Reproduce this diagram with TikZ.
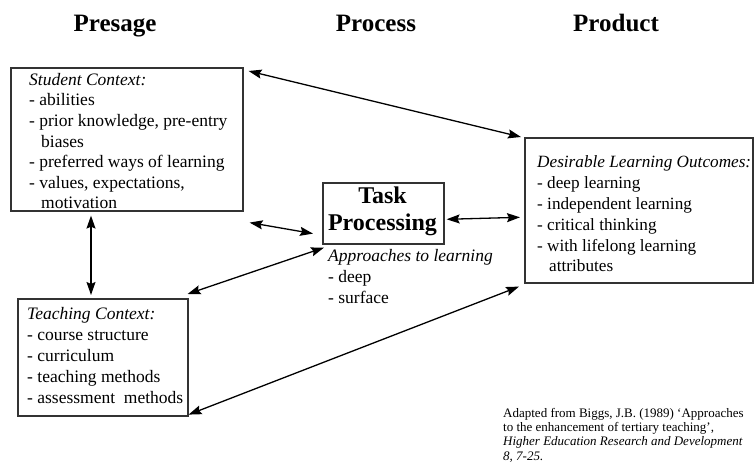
\documentclass[tikz,border=0pt]{standalone}
\usepackage{fontspec}
\setmainfont{Liberation Serif}
\usetikzlibrary{arrows.meta}
\begin{document}
\begin{tikzpicture}[x=1pt,y=-1pt,
  box/.style={draw=black!80, line width=1.6pt, inner sep=0pt, anchor=north west},
  body/.style={anchor=base west, inner sep=0pt, align=left, font=\fontsize{17.5}{20.9}\selectfont},
  cite/.style={anchor=base west, inner sep=0pt, align=left, font=\fontsize{13}{14.3}\selectfont},
  title/.style={anchor=base, inner sep=0pt, font=\fontsize{25}{30}\selectfont\bfseries},
  link/.style={line width=1.3pt, {Stealth[length=13pt,width=9pt,inset=2pt]}-{Stealth[length=13pt,width=9pt,inset=2pt]}}
]
\useasboundingbox (0,0) rectangle (755,465);

% column titles
\node[title] (presage) at (115,32) {Presage};
\node[title] (process) at (376,32) {Process};
\node[title] (product) at (616,32) {Product};

% boxes
\node[box, minimum width=232pt, minimum height=143pt] (sc) at (10,67) {};
\node[box, minimum width=170pt, minimum height=117pt] (tc) at (17,298) {};
\node[box, minimum width=121pt, minimum height=61pt] (tp) at (322,182) {};
\node[box, minimum width=228pt, minimum height=145pt] (dlo) at (524,137) {};

% box texts (anchored at the baseline of the last line)
\node[body, font=\fontsize{17.5}{20.6}\selectfont] (sctext) at (29,209) {\textit{Student Context:}\\- abilities\\- prior knowledge, pre-entry\\\hspace*{12pt}biases\\- preferred ways of learning\\- values, expectations,\\\hspace*{12pt}motivation};
\node[body] (tctext) at (27,403) {\textit{Teaching Context:}\\- course structure\\- curriculum\\- teaching methods\\- assessment\ \ methods};
\node[title, align=center, font=\fontsize{24}{27}\selectfont\bfseries] (tptext) at (382.5,230) {Task\\Processing};
\node[body] (apptext) at (328,303.5) {\textit{Approaches to learning}\\- deep\\- surface};
\node[body, font=\fontsize{17.2}{20.9}\selectfont] (dlotext) at (537,272) {\textit{Desirable Learning Outcomes:}\\- deep learning\\- independent learning\\- critical thinking\\- with lifelong learning\\\hspace*{12pt}attributes};

% citation
\node[cite] (source) at (503,460) {Adapted from Biggs, J.B. (1989) `Approaches\\to the enhancement of tertiary teaching',\\\textit{Higher Education Research and Development}\\\textit{8, 7-25.}};

% connectors
\draw[link] ([shift={(5,4)}]sc.north east) -- ([shift={(-3,0)}]dlo.north west);
\draw[link] ([shift={(6,11)}]sc.south east) -- ([shift={(-9,-11)}]tp.south west);
\draw[link] ([shift={(2,6)}]tp.east) -- ([shift={(-4,7)}]dlo.west);
\draw[link] ([shift={(81,4)}]sc.south west) -- ([shift={(74,-3)}]tc.north west);
\draw[link] ([shift={(-1,-4)}]tc.north east) -- ([shift={(2,3)}]tp.south west);
\draw[link] ([shift={(0,-2)}]tc.south east) -- ([shift={(-5,3)}]dlo.south west);
\end{tikzpicture}
\end{document}
